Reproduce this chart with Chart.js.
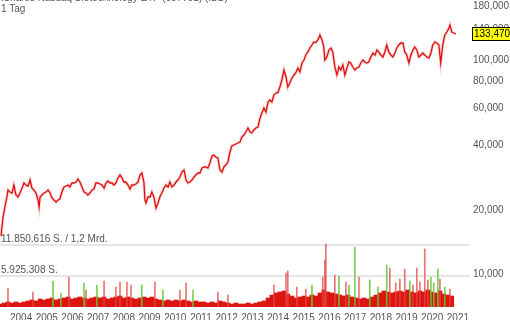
<!DOCTYPE html>
<html>
<head>
<meta charset="utf-8">
<script src="https://cdn.jsdelivr.net/npm/chart.js@4"></script>
<style>
  body { margin: 0; background: #fff; }
  #wrap { position: relative; width: 510px; height: 320px; overflow: hidden; }
  .head { position: absolute; left: 1px; font: 10px "Liberation Sans", Arial, sans-serif; color: #555; white-space: nowrap; }
</style>
</head>
<body>
<div id="wrap">
  <canvas id="ibbChart" width="510" height="320"></canvas>
  <div class="head" style="top:-8px">iShares Nasdaq Biotechnology ETF (657791) (IBB)</div>
  <div class="head" style="top:3px">1 Tag</div>
</div>
<script>
// tick labels
const yearTicks = [2004, 2005, 2006, 2007, 2008, 2009, 2010, 2011, 2012, 2013, 2014, 2015, 2016, 2017, 2018, 2019, 2020, 2021];
const priceTicks = [10000, 20000, 40000, 60000, 80000, 100000, 140000, 180000];
const lastPrice = 133470;

// price (decimal years)
const priceYears = [
  2003.22, 2003.30, 2003.37, 2003.45, 2003.49, 2003.57, 2003.65, 2003.72, 2003.80, 2003.88,
  2003.96, 2004.04, 2004.11, 2004.19, 2004.27, 2004.35, 2004.42, 2004.50, 2004.58, 2004.66,
  2004.70, 2004.74, 2004.81, 2004.89, 2004.97, 2005.05, 2005.13, 2005.20, 2005.28, 2005.36,
  2005.44, 2005.51, 2005.59, 2005.67, 2005.75, 2005.83, 2005.90, 2005.98, 2006.06, 2006.14,
  2006.21, 2006.29, 2006.37, 2006.45, 2006.53, 2006.60, 2006.68, 2006.76, 2006.84, 2006.91,
  2006.99, 2007.07, 2007.15, 2007.23, 2007.30, 2007.38, 2007.46, 2007.54, 2007.61, 2007.69,
  2007.77, 2007.85, 2007.93, 2008.00, 2008.08, 2008.16, 2008.24, 2008.31, 2008.39, 2008.47,
  2008.55, 2008.63, 2008.70, 2008.78, 2008.82, 2008.86, 2008.94, 2009.02, 2009.09, 2009.17,
  2009.25, 2009.33, 2009.40, 2009.48, 2009.56, 2009.64, 2009.72, 2009.79, 2009.87, 2009.95,
  2010.03, 2010.10, 2010.18, 2010.26, 2010.34, 2010.42, 2010.49, 2010.57, 2010.65, 2010.73,
  2010.80, 2010.88, 2010.96, 2011.04, 2011.12, 2011.19, 2011.27, 2011.35, 2011.43, 2011.50,
  2011.58, 2011.66, 2011.74, 2011.82, 2011.89, 2011.97, 2012.05, 2012.13, 2012.20, 2012.28,
  2012.36, 2012.44, 2012.52, 2012.59, 2012.67, 2012.75, 2012.83, 2012.91, 2012.98, 2013.06,
  2013.14, 2013.22, 2013.29, 2013.37, 2013.45, 2013.53, 2013.61, 2013.68, 2013.76, 2013.84,
  2013.92, 2014.00, 2014.07, 2014.15, 2014.23, 2014.31, 2014.38, 2014.46, 2014.54, 2014.62,
  2014.69, 2014.77, 2014.85, 2014.93, 2015.01, 2015.08, 2015.16, 2015.24, 2015.32, 2015.39,
  2015.47, 2015.55, 2015.63, 2015.71, 2015.78, 2015.82, 2015.90, 2015.98, 2016.06, 2016.13,
  2016.21, 2016.29, 2016.37, 2016.44, 2016.52, 2016.60, 2016.68, 2016.76, 2016.83, 2016.91,
  2016.99, 2017.07, 2017.15, 2017.22, 2017.30, 2017.38, 2017.46, 2017.53, 2017.61, 2017.69,
  2017.77, 2017.85, 2017.92, 2018.00, 2018.08, 2018.16, 2018.23, 2018.31, 2018.39, 2018.47,
  2018.55, 2018.62, 2018.70, 2018.78, 2018.86, 2018.93, 2019.01, 2019.09, 2019.17, 2019.25,
  2019.32, 2019.40, 2019.48, 2019.56, 2019.63, 2019.71, 2019.79, 2019.87, 2019.95, 2020.02,
  2020.10, 2020.18, 2020.26, 2020.33, 2020.41, 2020.49, 2020.57, 2020.65, 2020.69, 2020.76,
  2020.84, 2020.92
];
const priceValues = [
  15110, 18550, 20660, 23010, 24810, 24280, 24020, 26180, 23510, 23010,
  24020, 25350, 26750, 26180, 25900, 27630, 25350, 24810, 24020, 22280,
  20660, 23010, 23510, 24020, 24280, 24810, 24020, 22760, 22280, 21800,
  22280, 22520, 24280, 25630, 25900, 26180, 25630, 26750, 26750, 27040,
  27930, 27040, 25630, 24280, 24020, 23510, 24020, 24810, 25080, 26750,
  26750, 26470, 26180, 25350, 26750, 27340, 26750, 26750, 26180, 26750,
  28230, 29160, 28230, 27040, 27040, 26180, 25080, 26180, 26180, 26470,
  27040, 29160, 29800, 27040, 22280, 21570, 23010, 23010, 24280, 23010,
  20440, 21570, 23010, 24020, 25350, 26180, 25630, 27040, 25630, 26180,
  27040, 27630, 28540, 30120, 30780, 27630, 26750, 27040, 27630, 28540,
  29160, 29800, 29800, 31450, 31790, 31790, 31450, 33190, 35790, 36180,
  35400, 35020, 30780, 30120, 31790, 32480, 33550, 37360, 39860, 40290,
  40730, 41170, 41620, 43920, 44880, 46350, 48390, 46350, 45850, 47360,
  48390, 48920, 53320, 56890, 60030, 57500, 64040, 65440, 64040, 69060,
  70560, 71000, 75270, 81170, 90410, 83840, 75270, 78590, 82940, 85670,
  87540, 92380, 88490, 97500, 100700, 106280, 109770, 114600, 118360, 122260,
  121500, 124920, 131840, 124920, 115850, 100700, 104010, 112160, 114600, 109770,
  93380, 85670, 93380, 90410, 95420, 85670, 92380, 98550, 97500, 93380,
  90410, 92380, 93380, 97500, 100700, 98550, 97500, 98550, 104010, 108590,
  106280, 112160, 109770, 106280, 104010, 109770, 118360, 109770, 106280, 104010,
  108590, 114600, 118360, 120950, 120950, 109770, 106280, 97500, 106280, 112160,
  115850, 112160, 104010, 106280, 108590, 106280, 104010, 102890, 108590, 118360,
  122260, 121000, 118360, 97500, 118360, 131840, 136160, 142160, 146830, 136160,
  134700, 133470
];

// volume in millions of shares, sampled along the same time axis
const volYears = [
  2003.18, 2003.34, 2003.49, 2003.65, 2003.80, 2003.96, 2004.11, 2004.27, 2004.42, 2004.58,
  2004.74, 2004.89, 2005.05, 2005.20, 2005.36, 2005.51, 2005.67, 2005.83, 2005.98, 2006.14,
  2006.29, 2006.45, 2006.60, 2006.76, 2006.91, 2007.07, 2007.23, 2007.38, 2007.54, 2007.69,
  2007.85, 2008.00, 2008.16, 2008.31, 2008.47, 2008.63, 2008.78, 2008.94, 2009.09, 2009.25,
  2009.40, 2009.56, 2009.72, 2009.87, 2010.03, 2010.18, 2010.34, 2010.49, 2010.65, 2010.80,
  2010.96, 2011.12, 2011.27, 2011.43, 2011.58, 2011.74, 2011.89, 2012.05, 2012.20, 2012.36,
  2012.52, 2012.67, 2012.83, 2012.98, 2013.14, 2013.29, 2013.45, 2013.61, 2013.76, 2013.92,
  2014.07, 2014.23, 2014.38, 2014.54, 2014.69, 2014.85, 2015.01, 2015.16, 2015.32, 2015.47,
  2015.63, 2015.78, 2015.94, 2016.09, 2016.25, 2016.41, 2016.56, 2016.72, 2016.87, 2017.03,
  2017.18, 2017.34, 2017.50, 2017.65, 2017.81, 2017.96, 2018.12, 2018.27, 2018.43, 2018.58,
  2018.74, 2018.90, 2019.05, 2019.21, 2019.36, 2019.52, 2019.67, 2019.83, 2019.98, 2020.14,
  2020.30, 2020.45, 2020.61, 2020.76
];
const volValues = [
  0.57, 0.76, 0.96, 0.76, 0.96, 0.76, 0.96, 1.15, 1.34, 1.15,
  1.53, 1.34, 1.53, 1.72, 1.34, 1.53, 1.72, 1.91, 1.53, 1.72,
  1.91, 1.72, 1.53, 1.72, 1.91, 1.72, 1.91, 1.53, 1.72, 1.91,
  2.10, 1.72, 1.91, 1.72, 1.53, 1.72, 1.91, 1.72, 1.91, 1.53,
  1.34, 1.15, 1.34, 1.15, 1.34, 1.15, 1.34, 1.15, 0.96, 1.15,
  0.96, 0.96, 0.76, 0.96, 0.76, 1.15, 0.96, 0.76, 0.57, 0.76,
  0.57, 0.57, 0.76, 0.57, 0.76, 0.96, 1.15, 1.72, 2.29, 2.68,
  2.87, 3.06, 2.48, 2.10, 1.72, 1.91, 2.10, 1.91, 2.29, 2.10,
  2.68, 3.25, 2.87, 2.68, 2.48, 2.29, 2.10, 2.29, 1.91, 1.72,
  1.53, 1.72, 1.53, 1.91, 2.29, 2.68, 3.06, 2.87, 2.68, 2.87,
  3.06, 2.87, 3.25, 2.87, 2.68, 3.06, 2.87, 3.25, 2.87, 2.68,
  3.06, 2.48, 2.29, 2.10
];

// single-day volume spikes (1 = up day, 0 = down day)
const spikeYears = [
  2003.49, 2004.46, 2005.24, 2005.55, 2005.86, 2006.45, 2006.53, 2006.95, 2007.23, 2007.69,
  2007.85, 2008.12, 2008.28, 2008.70, 2009.21, 2009.52, 2010.18, 2010.42, 2010.69, 2011.66,
  2012.05, 2013.84, 2014.31, 2014.38, 2014.73, 2015.08, 2015.32, 2015.74, 2015.82, 2015.86,
  2016.21, 2016.37, 2016.64, 2016.76, 2016.99, 2017.15, 2017.57, 2017.89, 2018.23, 2018.35,
  2018.58, 2018.74, 2018.93, 2019.13, 2019.25, 2019.40, 2019.52, 2019.71, 2019.83, 2019.95,
  2020.06, 2020.22, 2020.30, 2020.49, 2020.69
];
const spikeValues = [
  3.63, 2.87, 4.97, 2.68, 5.73, 4.59, 3.25, 4.20, 4.97, 3.82,
  4.78, 4.78, 4.20, 4.20, 4.78, 3.25, 3.25, 4.59, 3.25, 2.87,
  2.29, 4.20, 6.50, 6.88, 3.82, 3.44, 4.20, 5.73, 8.98, 12.04,
  6.12, 5.93, 4.78, 4.20, 11.47, 5.73, 5.16, 3.82, 8.03, 7.45,
  4.59, 5.35, 7.26, 4.97, 4.20, 7.45, 4.78, 11.09, 5.16, 5.73,
  4.59, 7.26, 5.35, 3.82, 3.44
];
const spikeUp = [
  0, 0, 1, 1, 0, 1, 0, 1, 0, 0,
  0, 0, 0, 1, 0, 1, 0, 0, 1, 0,
  0, 0, 0, 0, 0, 0, 1, 0, 0, 0,
  0, 1, 0, 1, 1, 0, 1, 1, 1, 0,
  0, 0, 0, 1, 0, 0, 0, 0, 0, 1,
  1, 1, 0, 1, 0
];

const volGridValues = [5.925308, 11.850616];
const volGridLabels = ["5.925.308 S.", "11.850.616 S. / 1,2 Mrd."];

const FONT = '"Liberation Sans", Arial, sans-serif';

const pricePoints = priceYears.map((x, i) => ({ x: x, y: priceValues[i] }));
const volPoints = volYears.map((x, i) => ({ x: x, y: volValues[i] }));
const spikePoints = spikeYears.map((x, i) => ({ x: x, y: spikeValues[i] }));

function noPad(scale) {
  scale.paddingTop = 0;
  scale.paddingBottom = 0;
  scale.paddingLeft = 0;
  scale.paddingRight = 0;
}

const overlay = {
  id: "overlay",
  afterDraw(chart) {
    const ctx = chart.ctx;
    const vol = chart.scales.vol;
    const y = chart.scales.y;
    ctx.save();
    ctx.font = "10px " + FONT;
    ctx.textBaseline = "alphabetic";
    ctx.fillStyle = "#555";
    ctx.textAlign = "left";
    volGridValues.forEach((v, i) => {
      ctx.fillText(volGridLabels[i], 1, vol.getPixelForValue(v) - 3);
    });
    // last price box
    const py = Math.round(y.getPixelForValue(lastPrice));
    ctx.fillStyle = "#ffff00";
    ctx.fillRect(472, py - 7, 38, 13);
    ctx.strokeStyle = "#000";
    ctx.lineWidth = 1;
    ctx.strokeRect(472.5, py - 6.5, 38, 13);
    ctx.fillStyle = "#000";
    ctx.textBaseline = "middle";
    ctx.fillText(lastPrice.toLocaleString("en-US"), 474, py + 0.5);
    ctx.restore();
  }
};

new Chart(document.getElementById("ibbChart"), {
  type: "line",
  data: {
    datasets: [
      {
        data: pricePoints,
        yAxisID: "y",
        borderColor: "#e01010",
        borderWidth: 1.3,
        pointRadius: 0,
        tension: 0,
        order: 0
      },
      {
        data: pricePoints,
        yAxisID: "y",
        borderColor: "rgba(236, 120, 120, 0.35)",
        borderWidth: 3,
        pointRadius: 0,
        tension: 0,
        order: 1
      },
      {
        type: "bar",
        data: spikePoints,
        yAxisID: "vol",
        backgroundColor: spikeUp.map((u) => (u ? "rgba(100, 200, 50, 0.85)" : "rgba(228, 70, 70, 0.75)")),
        barThickness: 1,
        grouped: false,
        order: 2
      },
      {
        type: "bar",
        data: volPoints,
        yAxisID: "vol",
        backgroundColor: "#dc1510",
        barThickness: 4,
        grouped: false,
        order: 3
      }
    ]
  },
  options: {
    responsive: false,
    animation: false,
    layout: { padding: 0 },
    plugins: { legend: { display: false }, tooltip: { enabled: false } },
    scales: {
      x: {
        type: "linear",
        min: 2003.18,
        max: 2021.47,
        offset: false,
        grid: { display: false, drawTicks: false },
        border: { display: false },
        afterBuildTicks: (scale) => { scale.ticks = yearTicks.map((v) => ({ value: v })); },
        afterFit: (scale) => { scale.height = 13; noPad(scale); },
        ticks: {
          padding: 5,
          maxRotation: 0,
          autoSkip: false,
          color: "#555",
          font: { family: FONT, size: 10 },
          callback: (v) => String(v)
        }
      },
      y: {
        type: "logarithmic",
        position: "right",
        min: 7032,
        max: 192220,
        grid: { display: false, drawTicks: false },
        border: { display: false },
        afterBuildTicks: (scale) => { scale.ticks = priceTicks.map((v) => ({ value: v })); },
        afterFit: (scale) => { scale.width = 40; noPad(scale); },
        ticks: {
          padding: 3,
          color: "#555",
          font: { family: FONT, size: 10 },
          callback: (v) => Number(v).toLocaleString("en-US")
        }
      },
      vol: {
        type: "linear",
        position: "left",
        min: 0,
        max: 58.68,
        grid: { color: "#e6e6e6", lineWidth: 2, drawTicks: false },
        border: { display: false },
        afterBuildTicks: (scale) => { scale.ticks = volGridValues.map((v) => ({ value: v })); },
        afterFit: (scale) => { scale.width = 0; noPad(scale); },
        ticks: { display: false }
      }
    }
  },
  plugins: [overlay]
});
</script>
</body>
</html>
